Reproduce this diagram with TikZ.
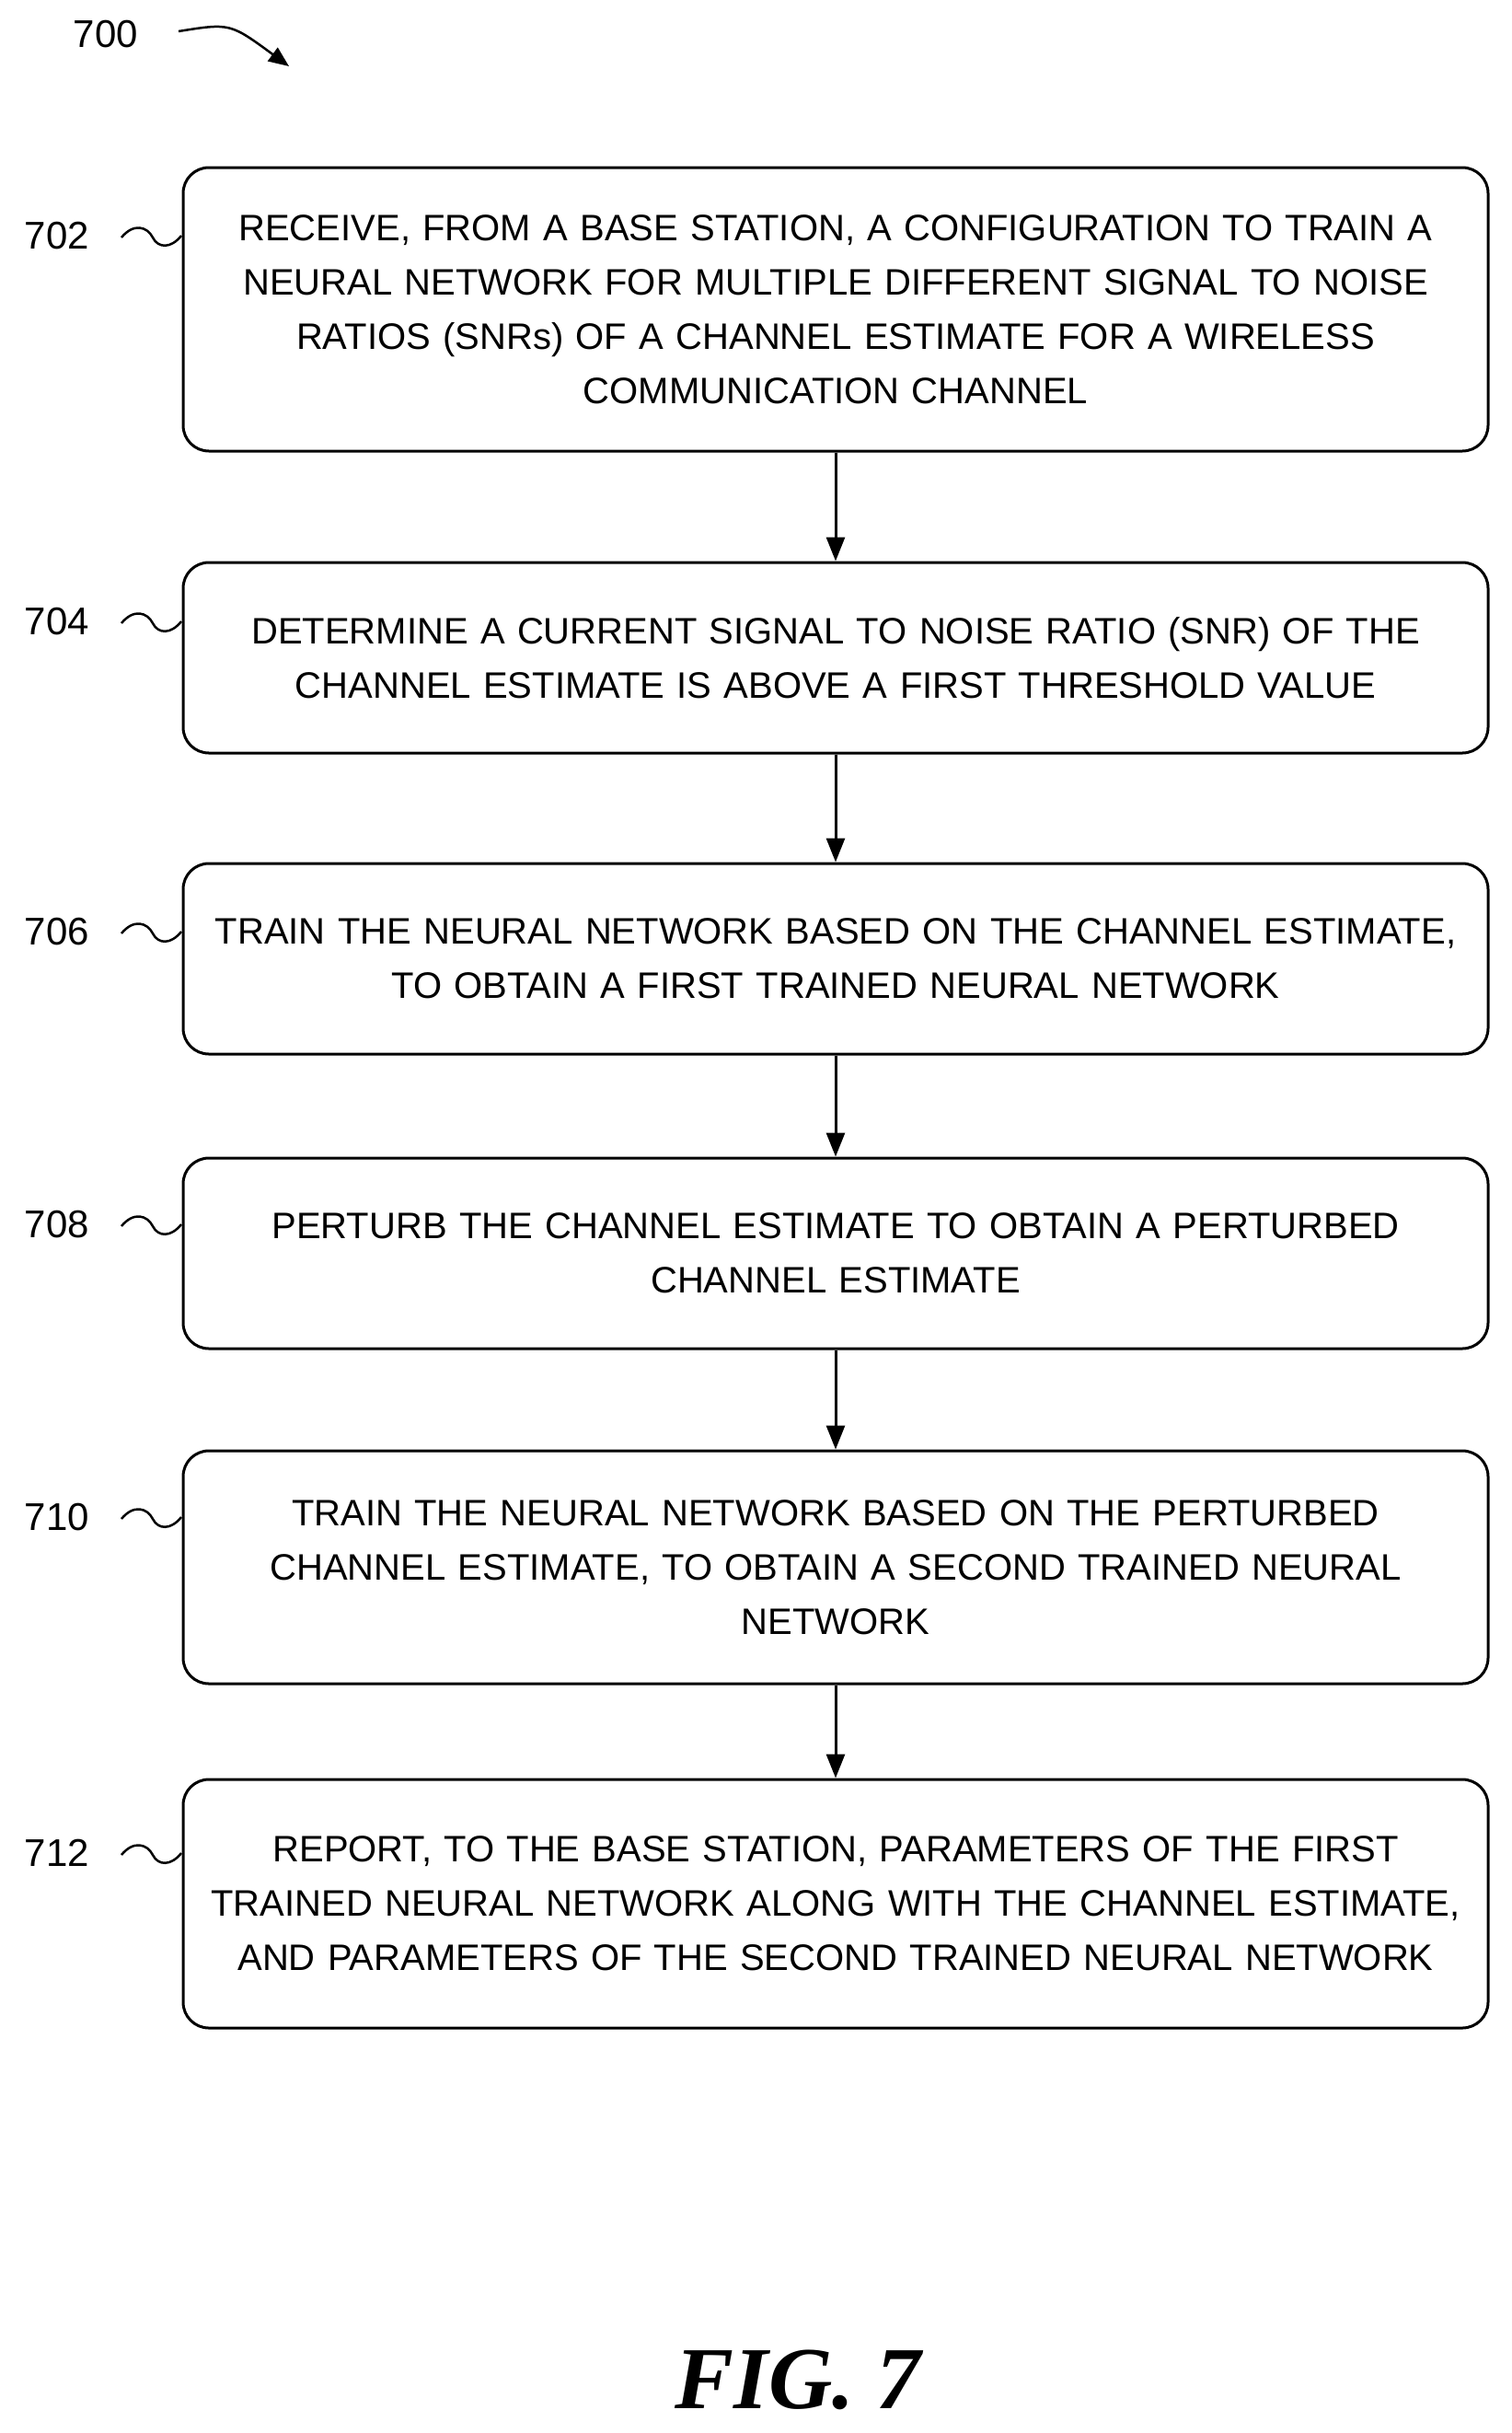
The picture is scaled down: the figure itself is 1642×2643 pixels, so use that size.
\documentclass[tikz,border=0pt]{standalone}
\usepackage{fontspec}
\setmainfont{Liberation Sans}
\newfontfamily\figfont{Liberation Serif}
\usetikzlibrary{arrows.meta}
\begin{document}
\begin{tikzpicture}[x=1pt,y=-1pt,
  box/.style={draw,line width=3pt,rounded corners=28pt,minimum width=1418pt,align=center,text width=1400pt,inner sep=0pt,font=\fontsize{40}{59}\selectfont},
  lab/.style={font=\fontsize{42}{50}\selectfont},
  arr/.style={line width=3pt,-{Triangle[length=26pt,width=20pt]}},
  squig/.style={line width=2.5pt}]
\useasboundingbox (0,0) rectangle (1642,2643);
\def\bx#1#2#3#4{\node[box,minimum height=#3-#2 pt] (#1) at (908,{(#2+#3)/2}) {#4};}
\bx{b702}{182}{490}{RECEIVE, FROM A BASE STATION, A CONFIGURATION TO TRAIN A\\NEURAL NETWORK FOR MULTIPLE DIFFERENT SIGNAL TO NOISE\\RATIOS (SNRs) OF A CHANNEL ESTIMATE FOR A WIRELESS\\COMMUNICATION CHANNEL}
\bx{b704}{611}{818}{DETERMINE A CURRENT SIGNAL TO NOISE RATIO (SNR) OF THE\\CHANNEL ESTIMATE IS ABOVE A FIRST THRESHOLD VALUE}
\bx{b706}{938}{1145}{TRAIN THE NEURAL NETWORK BASED ON THE CHANNEL ESTIMATE,\\TO OBTAIN A FIRST TRAINED NEURAL NETWORK}
\bx{b708}{1258}{1465}{PERTURB THE CHANNEL ESTIMATE TO OBTAIN A PERTURBED\\CHANNEL ESTIMATE}
\bx{b710}{1576}{1829}{TRAIN THE NEURAL NETWORK BASED ON THE PERTURBED\\CHANNEL ESTIMATE, TO OBTAIN A SECOND TRAINED NEURAL\\NETWORK}
\bx{b712}{1933}{2203}{REPORT, TO THE BASE STATION, PARAMETERS OF THE FIRST\\TRAINED NEURAL NETWORK ALONG WITH THE CHANNEL ESTIMATE,\\AND PARAMETERS OF THE SECOND TRAINED NEURAL NETWORK}
\foreach \a/\b in {b702/b704,b704/b706,b706/b708,b708/b710,b710/b712}
  \draw[arr] (\a.south) -- (\b.north);
\foreach \n/\y in {702/256,704/675,706/1012,708/1330,710/1648,712/2013}{
  \node[lab] (l\n) at (62,\y) {\n};
  \draw[squig] (132,\y+2) .. controls (145,\y-14) and (160,\y-10) .. (166,\y+2) .. controls (172,\y+14) and (186,\y+14) .. (197,\y);
}
\node[lab] (l700) at (115,37) {700};
\coordinate (a0) at (194,34);
\coordinate (a1) at (314,72);
\draw[line width=2.5pt,-{Triangle[length=22pt,width=18pt]}] (a0) .. controls (250,25) .. (a1);
\node[font=\figfont\bfseries\itshape\fontsize{96}{110}\selectfont] (fig) at (867,2585) {FIG. 7};
\end{tikzpicture}
\end{document}
